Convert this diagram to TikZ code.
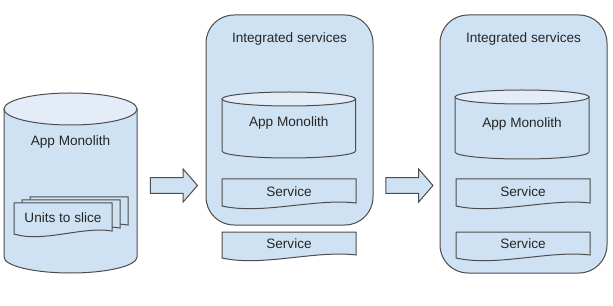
\documentclass[tikz,border=0pt]{standalone}
\usepackage{fontspec}
\setmainfont{Liberation Sans}
\usepackage{xcolor}
\usepackage{tikz}
\usetikzlibrary{positioning, shapes.arrows}

\definecolor{paleblue}{HTML}{CFE2F3}
\definecolor{lidblue}{HTML}{E3ECF7}
\definecolor{edgegray}{HTML}{4D4D4D}

\begin{document}
\begin{tikzpicture}[x=0.75pt, y=-0.75pt,
    every node/.style={font=\fontsize{10.2}{12}\selectfont, text=black!85},
    bluepart/.style={draw=edgegray, fill=paleblue, line width=0.75pt},
    lid/.style={draw=edgegray, fill=lidblue, line width=0.75pt},
    fatarrow/.style={single arrow, draw=edgegray, fill=paleblue, line width=0.75pt,
      inner xsep=0pt, inner ysep=5.6pt, minimum height=35.25pt,
      single arrow head extend=6.4pt, single arrow tip angle=98}]
  \useasboundingbox (0,0) rectangle (613,306);

  % left: the monolith
  \draw[bluepart] (4,109) -- (4,257) arc[start angle=180, end angle=0, x radius=66.5, y radius=16] -- (137,109) -- cycle;
  \draw[lid] (70.5,109) ellipse[x radius=66.5, y radius=16];
  \node (mono) at (70.5,142) {App Monolith};

  \foreach \x/\y in {30/197, 22/200, 14/203}
    \draw[bluepart] (\x,\y) -- ++(98,0) -- ++(0,28)
      .. controls ({\x+68.6},{\y+23}) and ({\x+29.4},{\y+40}) .. ({\x},{\y+31}) -- cycle;
  \node (units) at (63,218) {Units to slice};

  \node[fatarrow] (step1) at (170.5,185.5) {};

  % middle: services around the monolith
  \draw[bluepart, rounded corners=21pt] (206,15) rectangle (373,225);
  \node (integ1) at (289.5,39) {Integrated services};

  \draw[bluepart] (222,99) -- (222,151) arc[start angle=180, end angle=0, x radius=66.75, y radius=7] -- (355.5,99) -- cycle;
  \draw[lid] (288.75,99) ellipse[x radius=66.75, y radius=7];
  \node (mono1) at (288.75,123) {App Monolith};

  \node[fatarrow] (step2) at (406,185.5) {};

  % right: more services
  \draw[bluepart, rounded corners=21pt] (440,15) rectangle (607,273);
  \node (integ2) at (523.5,39) {Integrated services};

  \draw[bluepart] (455,97) -- (455,152) arc[start angle=180, end angle=0, x radius=67, y radius=7] -- (589,97) -- cycle;
  \draw[lid] (522,97) ellipse[x radius=67, y radius=7];
  \node (mono2) at (522,124) {App Monolith};

  \foreach \x/\y/\h in {222/179/24, 222/232/23, 456/179/24, 456/232/23}
    \draw[bluepart] (\x,\y) -- ++(134,0) -- ++(0,\h)
      .. controls ({\x+93.8},{\y+\h-5}) and ({\x+40.2},{\y+\h+12}) .. ({\x},{\y+\h+3}) -- cycle;
  \node (serv1) at (289,192) {Service};
  \node (serv2) at (289,244) {Service};
  \node (serv3) at (523,192) {Service};
  \node (serv4) at (523,244) {Service};
\end{tikzpicture}
\end{document}
